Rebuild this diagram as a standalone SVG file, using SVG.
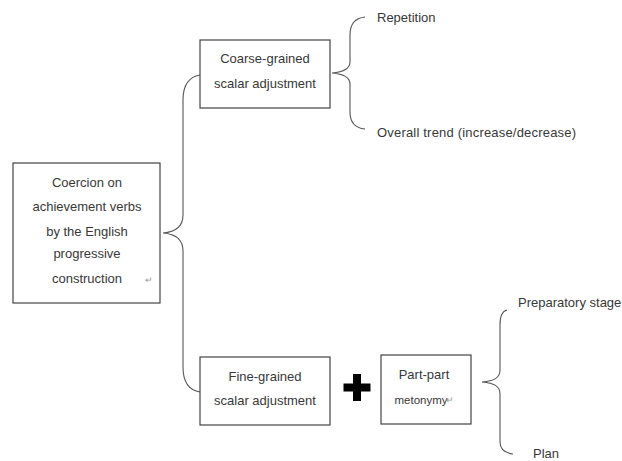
<svg xmlns="http://www.w3.org/2000/svg" width="622" height="461" viewBox="0 0 622 461">
<style>
.box{fill:#fff;stroke:#444;stroke-width:1.2}
.br{fill:none;stroke:#555;stroke-width:1.1}
text{font-family:"Liberation Sans",Arial,sans-serif;font-size:13px;fill:#383838}
.c{text-anchor:middle}
.ret{font-size:9px;fill:#999}
</style>
<rect width="622" height="461" fill="#fff"/>
<g id="connectors">
<path class="br" d="M200,75 C188,77 183,85 183,100 L183,215 C183,226 176,232 163,233 C176,234 183,240 183,251 L183,367 C183,382 188,390 200,392"/>
<path class="br" d="M365,17 C355,18 350,24 350,35 L350,62 C350,69 344,72 332,73 C344,74 350,77 350,84 L350,112 C350,123 355,128 365,129"/>
<path class="br" d="M507,310 C502,311 500,316 500,325 L500,370 C500,378 494,381 482,382 C494,383 500,386 500,394 L500,442 C500,450 505,453 513,454"/>
</g>
<g id="root">
<rect class="box" x="13" y="163" width="147" height="140"/>
<text class="c" x="87" y="187">Coercion on</text>
<text class="c" x="87" y="211">achievement verbs</text>
<text class="c" x="87" y="236">by the English</text>
<text class="c" x="87" y="258">progressive</text>
<text class="c" x="87" y="283">construction</text>
<text class="ret" x="145" y="283">↵</text>
</g>
<g id="coarse">
<rect class="box" x="200" y="40" width="130" height="68"/>
<text class="c" x="265" y="63">Coarse-grained</text>
<text class="c" x="265" y="88">scalar adjustment</text>
</g>
<g id="repetition">
<text x="377" y="22">Repetition</text>
</g>
<g id="trend">
<text x="377" y="137" textLength="199">Overall trend (increase/decrease)</text>
</g>
<g id="fine">
<rect class="box" x="200" y="357" width="130" height="68"/>
<text class="c" x="265" y="381">Fine-grained</text>
<text class="c" x="265" y="405">scalar adjustment</text>
</g>
<g id="plus">
<path d="M353,374 h8 v9.5 h9.5 v8 h-9.5 v9.5 h-8 v-9.5 h-9.5 v-8 h9.5 z" fill="#000"/>
</g>
<g id="partpart">
<rect class="box" x="381" y="355" width="90" height="69"/>
<text class="c" x="424" y="379">Part-part</text>
<text class="c" x="421" y="404" style="font-size:11.5px">metonymy</text>
<text class="ret" x="446" y="403">↵</text>
</g>
<g id="preparatory">
<text x="518" y="307">Preparatory stage</text>
</g>
<g id="plan">
<text x="533" y="458">Plan</text>
</g>
</svg>
